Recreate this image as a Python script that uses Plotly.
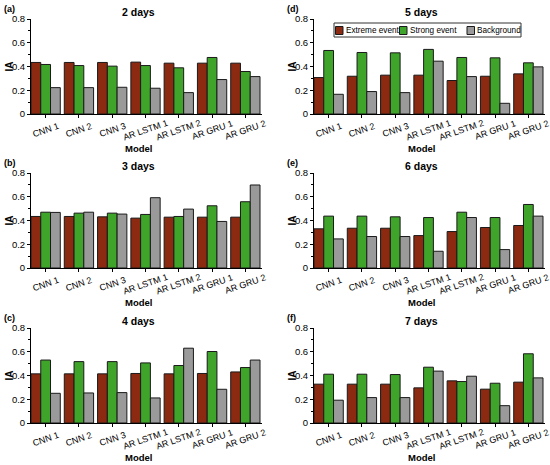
import plotly.graph_objects as go

models = ["CNN 1", "CNN 2", "CNN 3", "AR LSTM 1", "AR LSTM 2", "AR GRU 1", "AR GRU 2"]
series_names = ["Extreme event", "Strong event", "Background"]
panel_titles = ["2 days", "3 days", "4 days", "5 days", "6 days", "7 days"]
panel_labels = ["(a)", "(b)", "(c)", "(d)", "(e)", "(f)"]

extreme_2 = [0.434, 0.434, 0.434, 0.437, 0.428, 0.428, 0.428]
strong_2 = [0.417, 0.408, 0.403, 0.408, 0.389, 0.476, 0.358]
backgr_2 = [0.222, 0.222, 0.225, 0.217, 0.180, 0.290, 0.315]

extreme_3 = [0.434, 0.434, 0.431, 0.420, 0.428, 0.428, 0.428]
strong_3 = [0.470, 0.462, 0.462, 0.451, 0.434, 0.524, 0.558]
backgr_3 = [0.468, 0.470, 0.454, 0.592, 0.496, 0.392, 0.699]

extreme_4 = [0.414, 0.414, 0.414, 0.417, 0.414, 0.417, 0.430]
strong_4 = [0.530, 0.517, 0.517, 0.506, 0.484, 0.602, 0.467]
backgr_4 = [0.250, 0.253, 0.256, 0.211, 0.630, 0.284, 0.530]

extreme_5 = [0.307, 0.318, 0.327, 0.327, 0.282, 0.318, 0.338]
strong_5 = [0.535, 0.518, 0.515, 0.544, 0.476, 0.473, 0.431]
backgr_5 = [0.166, 0.189, 0.180, 0.445, 0.315, 0.090, 0.397]

extreme_6 = [0.330, 0.335, 0.335, 0.273, 0.307, 0.341, 0.358]
strong_6 = [0.437, 0.437, 0.431, 0.425, 0.470, 0.425, 0.535]
backgr_6 = [0.245, 0.265, 0.265, 0.141, 0.425, 0.155, 0.437]

extreme_7 = [0.327, 0.327, 0.327, 0.296, 0.355, 0.285, 0.344]
strong_7 = [0.411, 0.411, 0.408, 0.470, 0.349, 0.335, 0.583]
backgr_7 = [0.192, 0.214, 0.214, 0.437, 0.394, 0.146, 0.380]

panels = [
    (extreme_2, strong_2, backgr_2),
    (extreme_3, strong_3, backgr_3),
    (extreme_4, strong_4, backgr_4),
    (extreme_5, strong_5, backgr_5),
    (extreme_6, strong_6, backgr_6),
    (extreme_7, strong_7, backgr_7),
]

colors = ["#8B2A10", "#3FA52A", "#9A9A9A"]

W, H = 550, 465
FONT = "Arial, Liberation Sans, sans-serif"

# panel pixel boxes: (x0, x1, ytop, ybottom)
col_x = [(31, 262), (314, 545)]
row_y = [(19, 114), (173, 268), (328, 423)]

fig = go.Figure()
annotations = []
shapes = []

for i, (ext, stg, bg) in enumerate(panels):
    col = i // 3
    row = i % 3
    n = i + 1
    xa = "x" if n == 1 else f"x{n}"
    ya = "y" if n == 1 else f"y{n}"
    for s, (name, vals) in enumerate(zip(series_names, (ext, stg, bg))):
        fig.add_trace(go.Bar(
            x=list(range(len(models))), y=vals, name=name,
            marker=dict(color=colors[s], line=dict(color="#1a1a1a", width=1)),
            xaxis=xa, yaxis=ya, offsetgroup=str(s),
            showlegend=False,
        ))
    x0, x1 = col_x[col]
    yt, yb = row_y[row]
    xkey = "xaxis" if n == 1 else f"xaxis{n}"
    ykey = "yaxis" if n == 1 else f"yaxis{n}"
    fig.update_layout(**{
        xkey: dict(
            domain=[x0 / W, x1 / W], anchor=ya, automargin=False,
            range=[-0.44, 6.5],
            tickmode="array", tickvals=list(range(len(models))),
            showticklabels=False, ticks="outside", ticklen=3, tickcolor="black",
            showline=True, linecolor="black", linewidth=1,
            showgrid=False, zeroline=False,
        ),
        ykey: dict(
            domain=[1 - yb / H, 1 - yt / H], anchor=xa, automargin=False,
            range=[0, 0.8], tickvals=[0, 0.2, 0.4, 0.6, 0.8],
            ticktext=["0", "0.2", "0.4", "0.6", "0.8"],
            ticks="outside", ticklen=3, tickcolor="black",
            minor=dict(dtick=0.1, ticks="outside", ticklen=2, tickcolor="black"),
            showline=True, linecolor="black", linewidth=1,
            showgrid=False, zeroline=False,
            tickfont=dict(family=FONT, size=9.5, color="black"),
        ),
    })
    # rotated category labels centred on their ticks
    for k, m in enumerate(models):
        annotations.append(dict(
            text=m, x=k, xref=xa, y=1 - (yb + 15.5) / H, yref="paper",
            xanchor="center", yanchor="middle", textangle=-19,
            showarrow=False, font=dict(family=FONT, size=9, color="black")))
    cx = (x0 + x1) / 2 - 8
    annotations.append(dict(
        text=f"<b>{panel_titles[i]}</b>", x=cx / W, y=1 - (yt - 7) / H,
        xref="paper", yref="paper", xanchor="center", yanchor="middle",
        showarrow=False, font=dict(family=FONT, size=10.5, color="black")))
    annotations.append(dict(
        text=f"<b>{panel_labels[i]}</b>", x=(x0 - 29) / W, y=1 - (yt - 10) / H,
        xref="paper", yref="paper", xanchor="left", yanchor="middle",
        showarrow=False, font=dict(family=FONT, size=9, color="black")))
    annotations.append(dict(
        text="<b>Model</b>", x=cx / W, y=1 - (yb + 34) / H,
        xref="paper", yref="paper", xanchor="center", yanchor="middle",
        showarrow=False, font=dict(family=FONT, size=9.5, color="black")))
    annotations.append(dict(
        text="<b>IA</b>", x=(x0 - 22) / W, y=1 - (yt + yb) / 2 / H, textangle=-90,
        xref="paper", yref="paper", xanchor="center", yanchor="middle",
        showarrow=False, font=dict(family=FONT, size=10, color="black")))

# legend box (panel d)
lx0, lx1, ly0, ly1 = 334, 521, 23, 37
shapes.append(dict(type="rect", xref="paper", yref="paper",
                   x0=lx0 / W, x1=lx1 / W, y0=1 - ly1 / H, y1=1 - ly0 / H,
                   line=dict(color="#333", width=1), fillcolor="white", layer="above"))
entry_x = [335.5, 399.5, 467]
for s, name in enumerate(series_names):
    ex = entry_x[s]
    shapes.append(dict(type="rect", xref="paper", yref="paper",
                       x0=ex / W, x1=(ex + 7.5) / W, y0=1 - 34.5 / H, y1=1 - 26.5 / H,
                       line=dict(color="#1a1a1a", width=1), fillcolor=colors[s], layer="above"))
    annotations.append(dict(
        text=name, x=(ex + 8) / W, y=1 - 30.5 / H,
        xref="paper", yref="paper", xanchor="left", yanchor="middle",
        showarrow=False, font=dict(family=FONT, size=8.2, color="black")))

fig.update_layout(
    width=W, height=H,
    margin=dict(l=0, r=0, t=0, b=0),
    paper_bgcolor="white", plot_bgcolor="white",
    barmode="group", bargap=0.12, bargroupgap=0,
    annotations=annotations, shapes=shapes,
    showlegend=False,
    font=dict(family=FONT),
)

fig.write_html("out.html", config={"displayModeBar": False},
               post_script="document.body.style.margin='0';document.body.style.overflow='hidden';")
